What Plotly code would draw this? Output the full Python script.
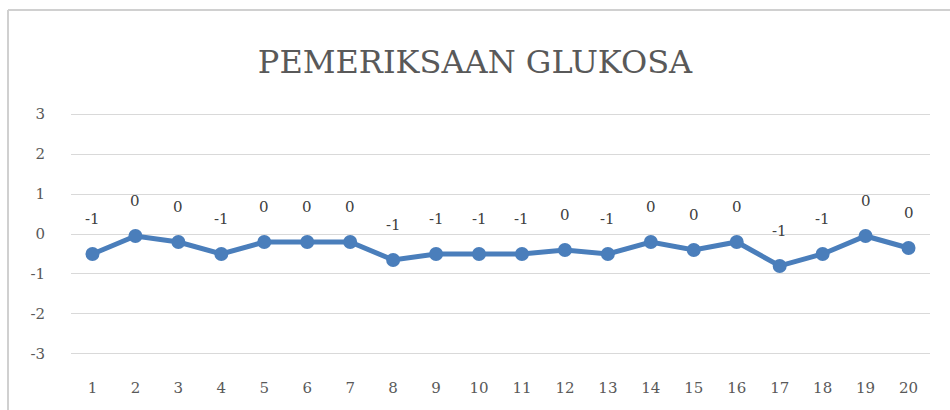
import math
import plotly.graph_objects as go

# Hasil pemeriksaan glukosa per sampel
samples = [str(i) for i in range(1, 21)]
glucose = [-0.5, -0.05, -0.2, -0.5, -0.2, -0.2, -0.2, -0.65, -0.5, -0.5,
           -0.5, -0.4, -0.5, -0.2, -0.4, -0.2, -0.8, -0.5, -0.05, -0.35]
y_ticks = [-3, -2, -1, 0, 1, 2, 3]
title_text = "PEMERIKSAAN GLUKOSA"


def round_half_away(v):
    r = math.floor(abs(v) + 0.5)
    return int(-r if v < 0 else r)


labels = [str(round_half_away(v)) for v in glucose]

W, H = 950, 410
ML, MR, MT, MB = 71, 20, 114, 56
TEXT_FONT = "DejaVu Serif"
GRAY = "#595959"
BLUE = "#4a7ebb"
GRID = "#d9d9d9"

fig = go.Figure()
fig.add_trace(go.Scatter(
    x=list(range(1, 21)), y=glucose,
    mode="lines+markers",
    line=dict(color=BLUE, width=5),
    marker=dict(color=BLUE, size=14),
    hoverinfo="x+y",
    showlegend=False,
))

annotations = [
    dict(x=i + 1, y=v, text=t, showarrow=False, xref="x", yref="y",
         yshift=35, font=dict(family=TEXT_FONT, size=15, color="#404040"))
    for i, (v, t) in enumerate(zip(glucose, labels))
]

# chart-area frame (left and top edges)
pw = W - ML - MR
ph = H - MT - MB
fx0 = (8 - ML) / pw
fy_top = (H - MB - 10) / ph
shapes = [
    dict(type="line", xref="paper", yref="paper", x0=fx0, x1=fx0,
         y0=-MB / ph, y1=fy_top, line=dict(color="#d0d0d0", width=2)),
    dict(type="line", xref="paper", yref="paper", x0=fx0, x1=(W - ML) / pw,
         y0=fy_top, y1=fy_top, line=dict(color="#d0d0d0", width=2)),
]
# gridlines on the outer ticks of the value axis
for yv in (y_ticks[0], y_ticks[-1]):
    shapes.append(dict(type="line", xref="paper", yref="y", x0=0, x1=1,
                       y0=yv, y1=yv, layer="below",
                       line=dict(color=GRID, width=1.3)))

fig.update_layout(
    width=W, height=H,
    margin=dict(l=ML, r=MR, t=MT, b=MB),
    paper_bgcolor="white", plot_bgcolor="white",
    title=dict(text=title_text, x=0.5, xanchor="center", y=1 - 62 / H,
               yanchor="middle",
               font=dict(family=TEXT_FONT, size=32, color=GRAY)),
    xaxis=dict(
        range=[0.5, 20.5],
        tickmode="array", tickvals=list(range(1, 21)), ticktext=samples,
        showgrid=False, zeroline=False, showline=False,
        ticks="outside", ticklen=20, tickcolor="rgba(0,0,0,0)",
        tickfont=dict(family=TEXT_FONT, size=15, color=GRAY),
        fixedrange=True,
    ),
    yaxis=dict(
        range=[-3.006, 3.006],
        tickmode="array", tickvals=y_ticks, ticktext=[str(v) for v in y_ticks],
        showgrid=True, gridcolor=GRID, gridwidth=1.3,
        zeroline=False, showline=False,
        ticks="outside", ticklen=22, tickcolor="rgba(0,0,0,0)",
        tickfont=dict(family=TEXT_FONT, size=15, color=GRAY),
        fixedrange=True,
    ),
    annotations=annotations,
    shapes=shapes,
)

fig.write_html("out.html")
